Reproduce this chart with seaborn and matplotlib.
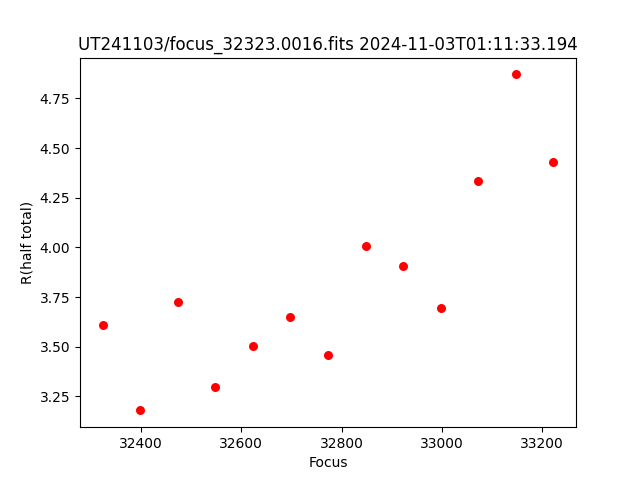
import matplotlib
matplotlib.use("Agg")
import matplotlib.pyplot as plt
import seaborn as sns

focus = [32323, 32398, 32473, 32548, 32623, 32698, 32773,
         32848, 32923, 32998, 33073, 33148, 33223]
r_half_total = [3.608, 3.180, 3.728, 3.296, 3.502, 3.648, 3.457,
                4.005, 3.905, 3.693, 4.332, 4.871, 4.428]

fig, ax = plt.subplots(figsize=(6.4, 4.8), dpi=100)
sns.scatterplot(x=focus, y=r_half_total, color="red", s=42, linewidth=0, ax=ax)
ax.set_xlabel("Focus")
ax.set_ylabel("R(half total)")
ax.set_title("UT241103/focus_32323.0016.fits 2024-11-03T01:11:33.194")

plt.savefig("out.png")
